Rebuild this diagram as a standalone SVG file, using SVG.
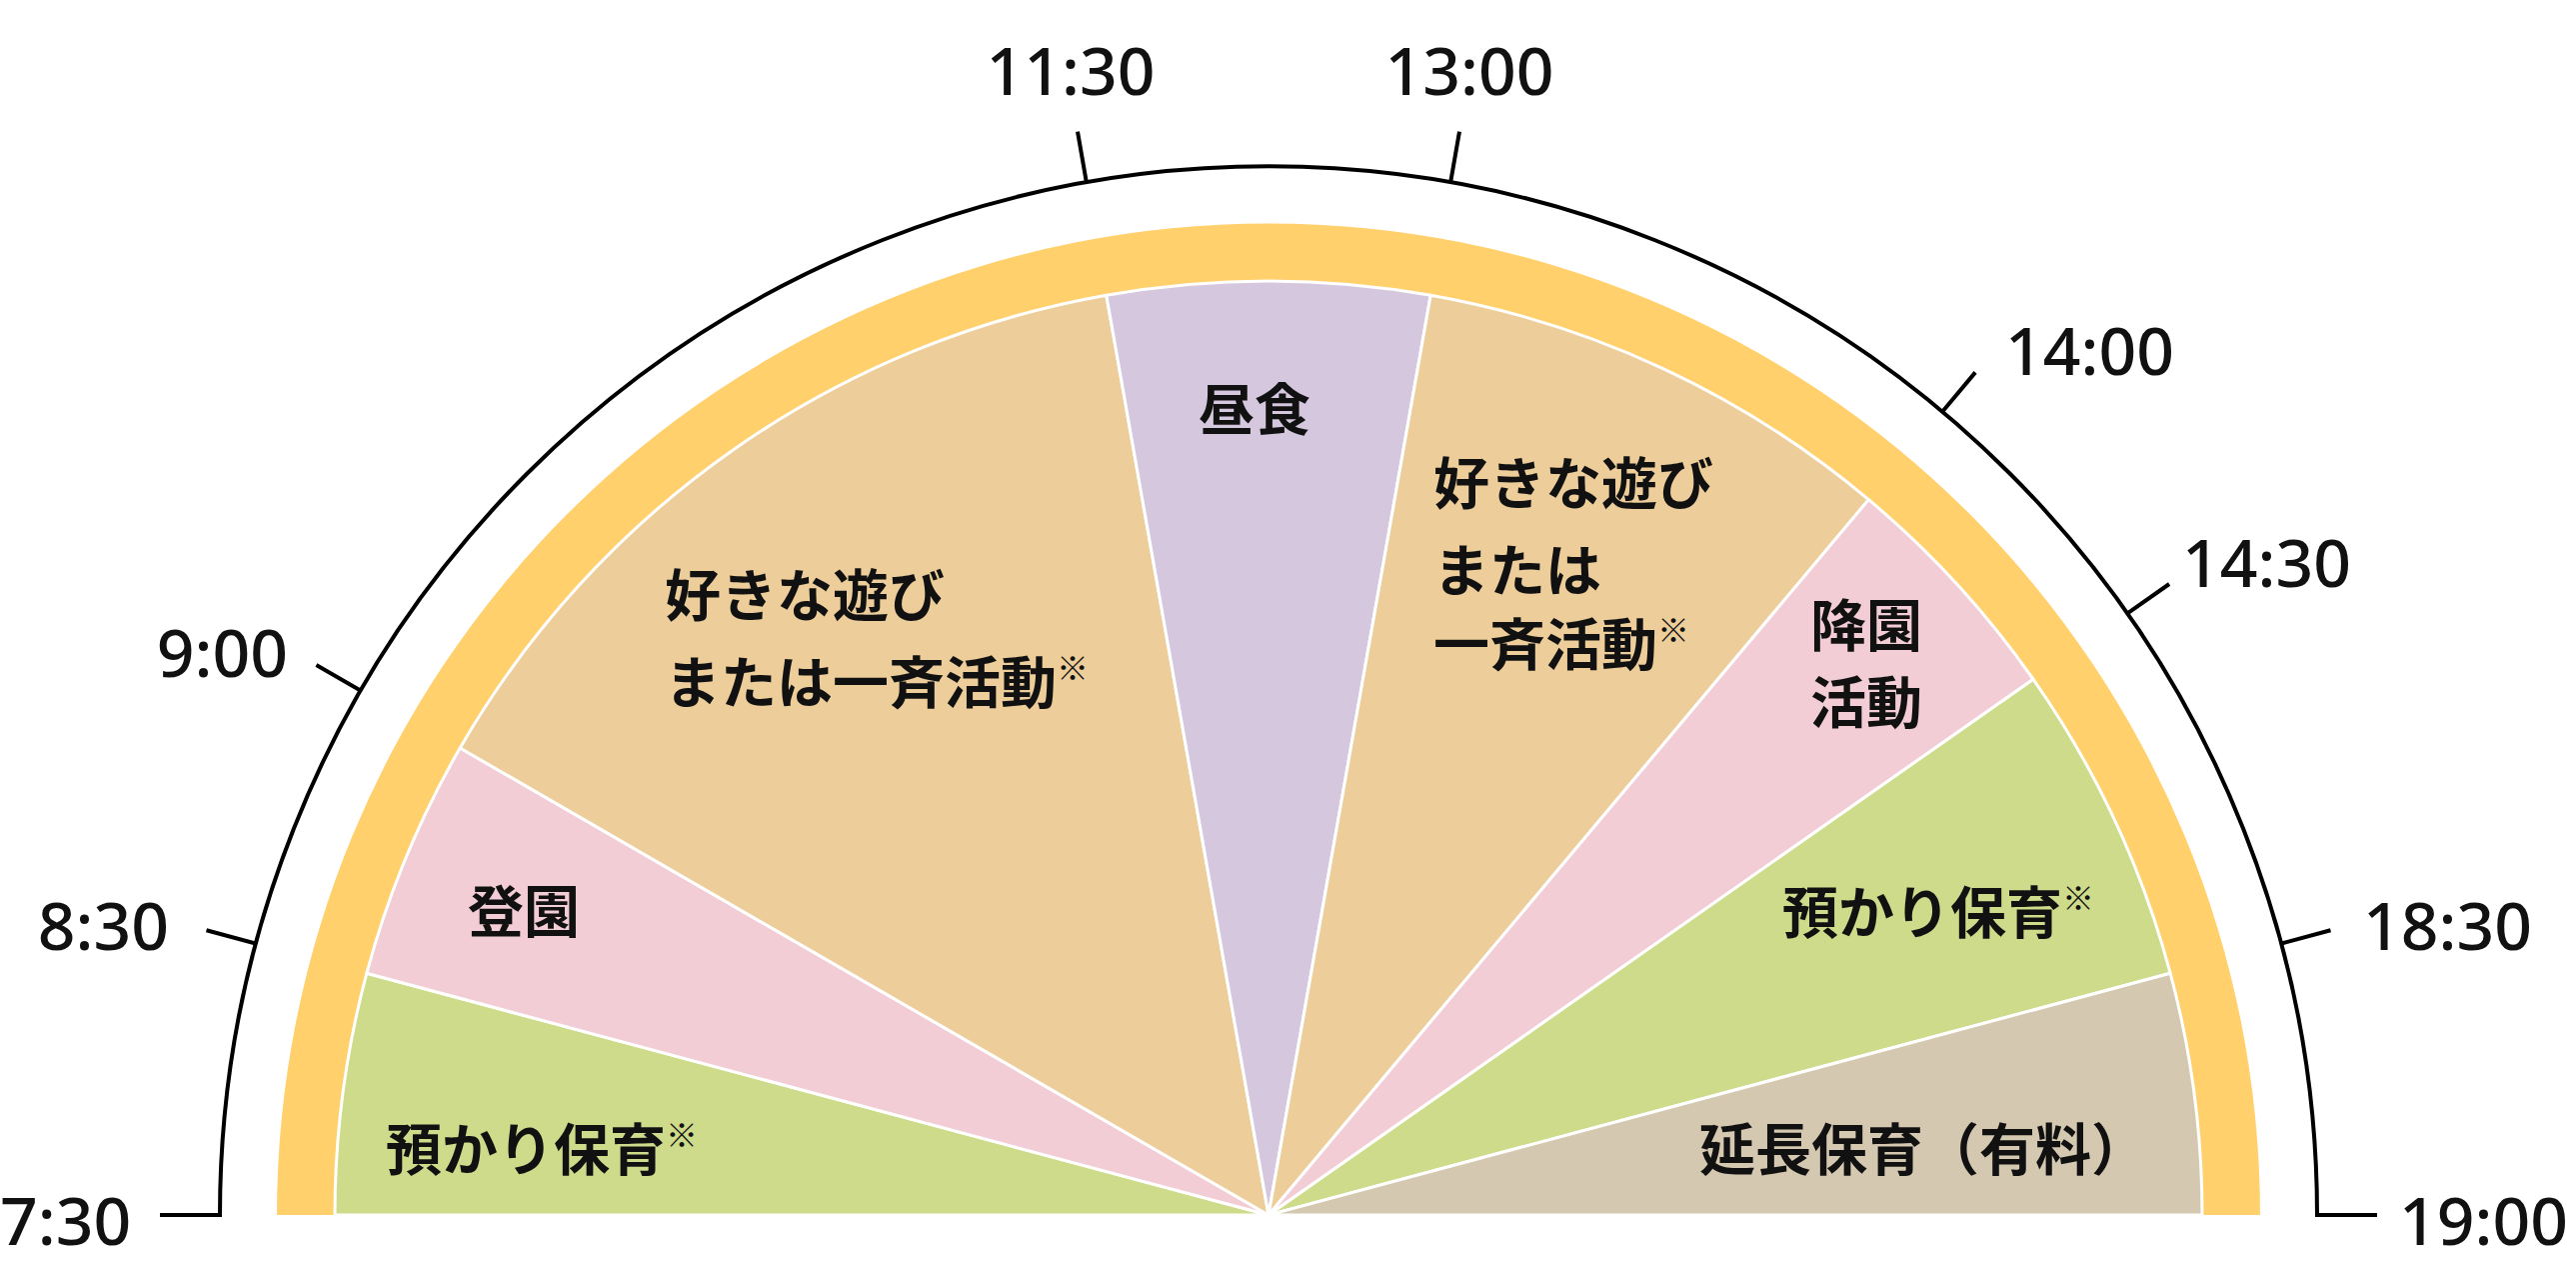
<svg xmlns="http://www.w3.org/2000/svg" width="2577" height="1261" viewBox="0 0 2577 1261">
<style>
.w{stroke:#fff;stroke-width:3;stroke-linejoin:round}
.t{font-family:"Noto Sans CJK JP","Noto Sans",sans-serif;font-size:56px;fill:#111;font-weight:700}
.tm{font-family:"Noto Sans","Noto Sans CJK JP",sans-serif;font-size:66px;fill:#111;font-weight:500}
.s{font-size:32px;baseline-shift:super}
.k{stroke:#000;stroke-width:4;fill:none}
</style>
<rect width="2577" height="1261" fill="#fff"/>
<g id="ring">
<path d="M277,1215 A992,992 0 0 1 2261,1215 L2201,1215 A932,932 0 0 0 337,1215 Z" fill="#FFD06C"/>
</g>
<g id="w1"><path class="w" d="M1269,1215 L335,1215 A934,934 0 0 1 366.8,973.3 Z" fill="#CEDB8A"/><text class="t" x="386" y="1170">預かり保育<tspan class="s">※</tspan></text></g>
<g id="w2"><path class="w" d="M1269,1215 L366.8,973.3 A934,934 0 0 1 460.2,748 Z" fill="#F2CDD5"/><text class="t" x="468" y="932">登園</text></g>
<g id="w3"><path class="w" d="M1269,1215 L460.2,748 A934,934 0 0 1 1106.8,295.2 Z" fill="#EDCE9B"/><text class="t" x="665" y="616">好きな遊び</text><text class="t" x="665" y="703">または一斉活動<tspan class="s">※</tspan></text></g>
<g id="w4"><path class="w" d="M1269,1215 L1106.8,295.2 A934,934 0 0 1 1431.2,295.2 Z" fill="#D4C7DE"/><text class="t" x="1199" y="430">昼食</text></g>
<g id="w5"><path class="w" d="M1269,1215 L1431.2,295.2 A934,934 0 0 1 1869.4,499.6 Z" fill="#EDCE9B"/><text class="t" x="1434" y="504">好きな遊び</text><text class="t" x="1434" y="591">または</text><text class="t" x="1434" y="665">一斉活動<tspan class="s">※</tspan></text></g>
<g id="w6"><path class="w" d="M1269,1215 L1869.4,499.6 A934,934 0 0 1 2034.1,679.3 Z" fill="#F2CDD5"/><text class="t" x="1811" y="646">降園</text><text class="t" x="1811" y="723">活動</text></g>
<g id="w7"><path class="w" d="M1269,1215 L2034.1,679.3 A934,934 0 0 1 2171.2,973.3 Z" fill="#CEDB8A"/><text class="t" x="1783" y="933">預かり保育<tspan class="s">※</tspan></text></g>
<g id="w8"><path class="w" d="M1269,1215 L2171.2,973.3 A934,934 0 0 1 2203,1215 Z" fill="#D4C8B0"/><text class="t" x="1700" y="1170">延長保育（有料）</text></g>
<g id="connectors">
<path class="k" d="M160,1215 H220 A1049,1049 0 0 1 2318,1215 H2378"/>
<path class="k" d="M255.8,943.5 L206.5,930.3 M360.6,690.5 L316.4,665 M1086.8,182 L1078,131.7 M1451.2,182 L1460,131.7 M1943.3,411.5 L1976.1,372.4 M2128.3,613.3 L2170.1,584 M2282.2,943.5 L2331.5,930.3"/>
</g>
<g id="labels">
<text class="tm" x="0" y="1245">7:30</text>
<text class="tm" x="169" y="950" text-anchor="end">8:30</text>
<text class="tm" x="288" y="677" text-anchor="end">9:00</text>
<text class="tm" x="1071" y="95" text-anchor="middle">11:30</text>
<text class="tm" x="1470" y="95" text-anchor="middle">13:00</text>
<text class="tm" x="2006" y="375">14:00</text>
<text class="tm" x="2183" y="587">14:30</text>
<text class="tm" x="2364" y="950">18:30</text>
<text class="tm" x="2400" y="1245">19:00</text>
</g>
</svg>
